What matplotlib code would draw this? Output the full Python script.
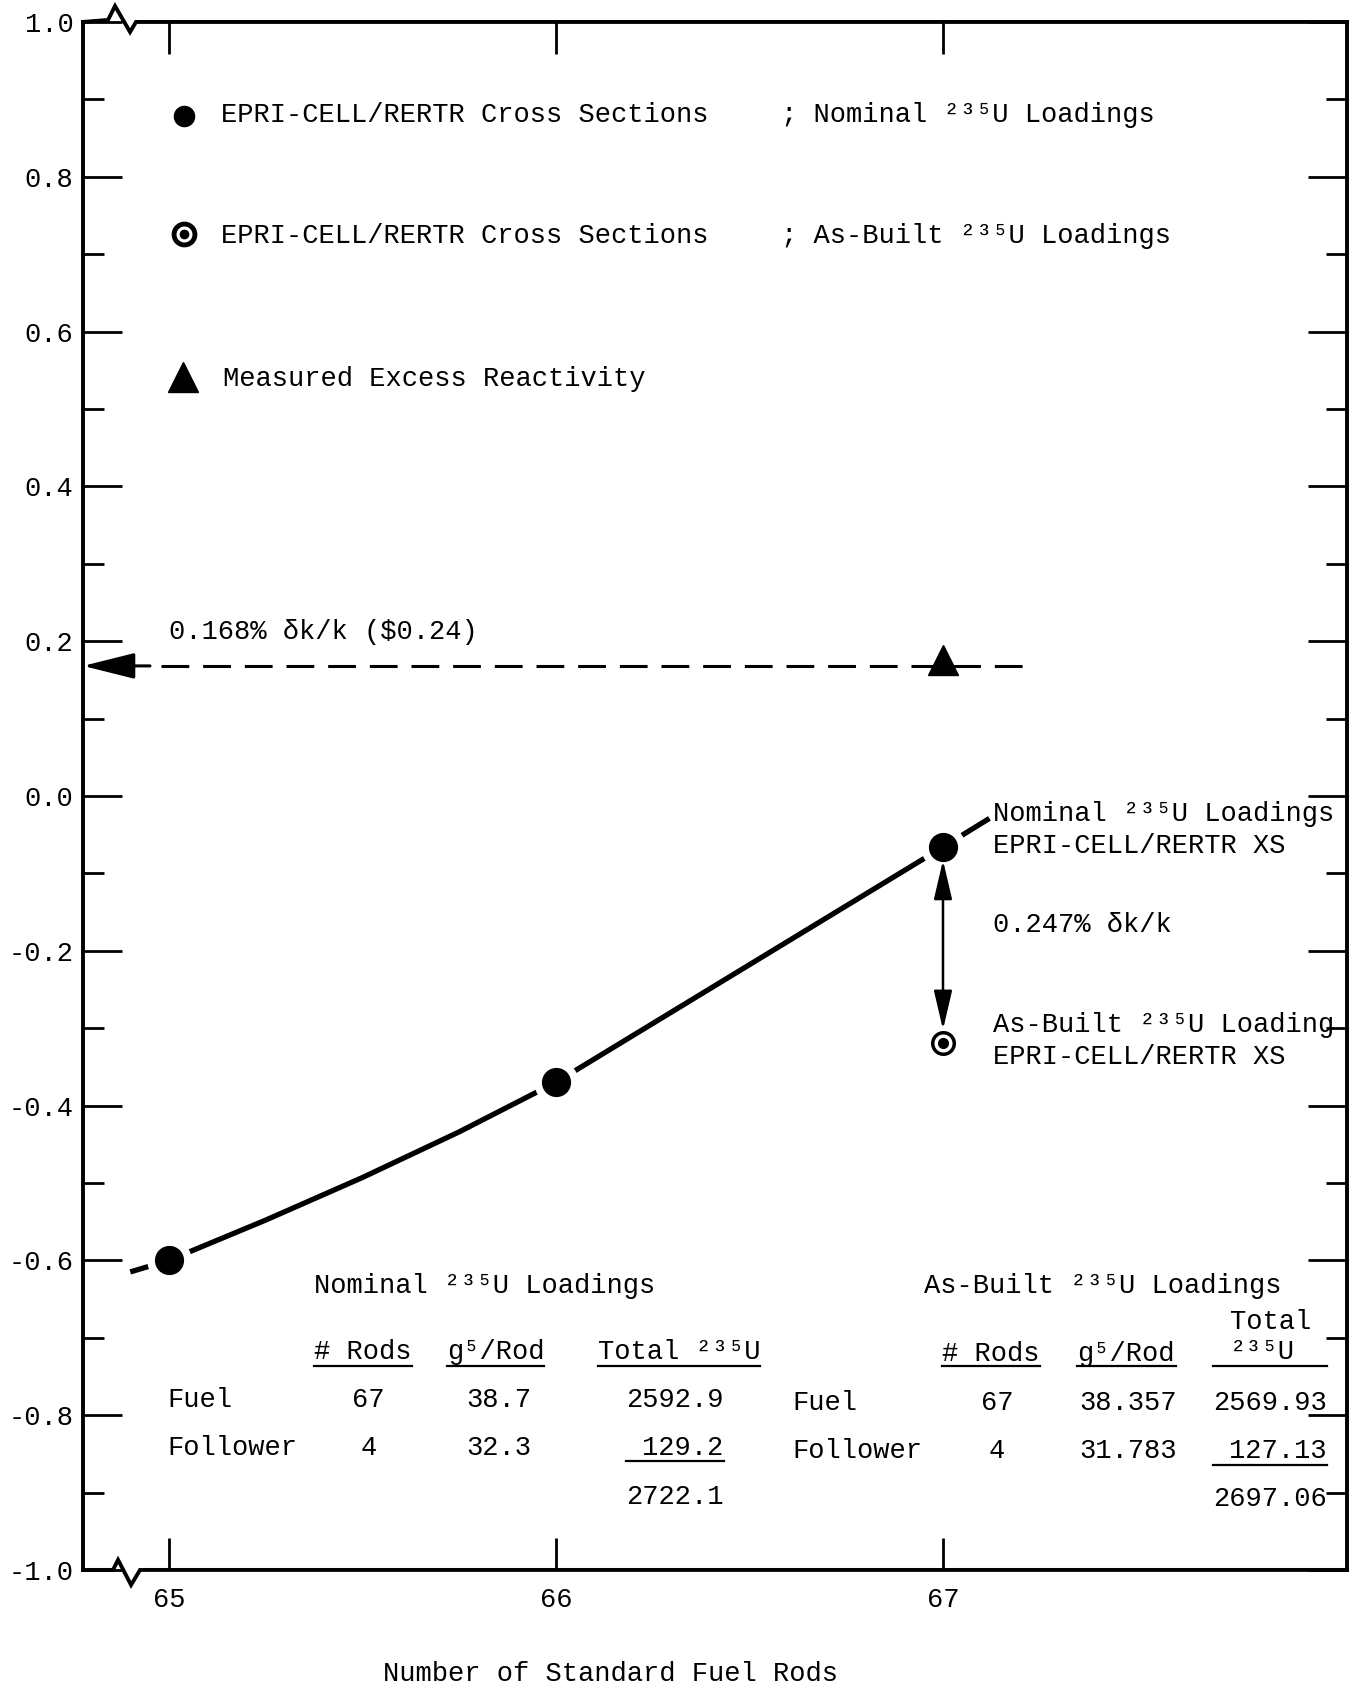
import numpy as np
import matplotlib
matplotlib.use('Agg')
import matplotlib.pyplot as plt

plt.rcParams['font.family'] = ['Liberation Mono', 'DejaVu Sans Mono']
plt.rcParams['lines.scale_dashes'] = False
FS = 19.5

# excess reactivity (% dk/k) vs number of standard fuel rods
rods = [65, 66, 67]
k_nominal = [-0.60, -0.37, -0.066]
rods_asbuilt = [67]
k_asbuilt = [-0.319]
rods_measured = [67]
k_measured = [0.175]
measured_level = 0.168

# hand drawn curve through the nominal points
curve_x = [64.90, 65.0, 65.25, 65.5, 65.75, 66.0, 67.0, 67.12]
curve_y = [-0.615, -0.60, -0.548, -0.493, -0.434, -0.37, -0.066, -0.029]

xtick_vals = [65, 66, 67]
xtick_labels = ['65', '66', '67']
ytick_vals = [-1.0, -0.8, -0.6, -0.4, -0.2, 0.0, 0.2, 0.4, 0.6, 0.8, 1.0]
ytick_labels = ['-1.0', '-0.8', '-0.6', '-0.4', '-0.2', '0.0', '0.2', '0.4', '0.6', '0.8', '1.0']
yminor_vals = [-0.9, -0.7, -0.5, -0.3, -0.1, 0.1, 0.3, 0.5, 0.7, 0.9]

# loading tables
row_names = ['Fuel', 'Follower']
nom_nrods = ['67', '4']
nom_g5 = ['38.7', '32.3']
nom_total = ['2592.9', '129.2']
nom_sum = '2722.1'
ab_nrods = ['67', '4']
ab_g5 = ['38.357', '31.783']
ab_total = ['2569.93', '127.13']
ab_sum = '2697.06'

fig = plt.figure(figsize=(13.59, 16.89), dpi=100)
ax = fig.add_axes([0.0611, 0.0705, 0.9301, 0.9165])
ax.set_xlim(64.778, 68.044)
ax.set_ylim(-1.0, 1.0)

# axes frame with break marks on top and bottom
for s in ['top', 'bottom']:
    ax.spines[s].set_visible(False)
for s in ['left', 'right']:
    ax.spines[s].set_linewidth(2.8)
ax.plot([0, 0.0198, 0.0253, 0.0372, 0.0419, 1], [1, 1.0013, 1.0103, 0.9935, 1.0, 1],
        color='k', lw=2.8, transform=ax.transAxes, clip_on=False, solid_joinstyle='miter')
ax.plot([0, 0.0237, 0.0277, 0.038, 0.0451, 1], [0, 0, 0.0065, -0.0097, 0.0, 0],
        color='k', lw=2.8, transform=ax.transAxes, clip_on=False, solid_joinstyle='miter')

ax.set_xticks(xtick_vals)
ax.set_xticklabels(xtick_labels)
ax.set_yticks(ytick_vals)
ax.set_yticklabels(ytick_labels)
ax.set_yticks(yminor_vals, minor=True)
ax.tick_params(axis='x', which='major', direction='in', length=23, width=2,
               top=True, bottom=True, pad=12, labelsize=FS)
ax.tick_params(axis='y', which='major', direction='in', length=28, width=2,
               left=True, right=True, pad=7, labelsize=FS)
ax.tick_params(axis='y', which='minor', direction='in', length=15, width=2,
               left=True, right=True)

# curve and points (white halo leaves the gap around each dot)
ax.plot(curve_x, curve_y, color='k', lw=3.8, solid_capstyle='butt',
        solid_joinstyle='round', zorder=2)
ax.plot(rods, k_nominal, 'o', color='white', ms=31, zorder=3)
ax.plot(rods, k_nominal, 'o', color='k', ms=20, zorder=4)

ax.annotate('', xy=(rods_asbuilt[0], k_asbuilt[0]), xytext=(rods[2], k_nominal[2]),
            arrowprops=dict(arrowstyle='<|-|>,head_length=1.2,head_width=0.28',
                            mutation_scale=20, lw=1.8, color='k',
                            shrinkA=9.5, shrinkB=9.5), zorder=3)
ax.plot(rods_asbuilt, k_asbuilt, 'o', mfc='white', mec='k', ms=15.5, mew=2.5, zorder=4)
ax.plot(rods_asbuilt, k_asbuilt, 'o', color='k', ms=7, zorder=5)

# measured excess reactivity
ax.plot([64.98, 67.21], [measured_level, measured_level], color='k', lw=2.2,
        ls=(0, (20, 10)), zorder=2)
ax.annotate('', xy=(ax.get_xlim()[0], measured_level), xytext=(64.951, measured_level),
            arrowprops=dict(arrowstyle='-|>,head_length=0.8,head_width=0.2',
                            mutation_scale=40, lw=2.2, color='k', shrinkA=0, shrinkB=0))
ax.plot(rods_measured, k_measured, '^', color='k', ms=21, zorder=4)

# key
ax.plot([65.04], [0.879], 'o', color='k', ms=14.5)
ax.plot([65.04], [0.7265], 'o', mfc='white', mec='k', ms=15, mew=3.5)
ax.plot([65.04], [0.7265], 'o', color='k', ms=6)
ax.plot([65.036], [0.541], '^', color='k', ms=22)
ax.text(65.134, 0.871, 'EPRI-CELL/RERTR Cross Sections', fontsize=FS)
ax.text(66.581, 0.871, '; Nominal ²³⁵U Loadings', fontsize=FS)
ax.text(65.134, 0.714, 'EPRI-CELL/RERTR Cross Sections', fontsize=FS)
ax.text(66.581, 0.714, '; As-Built ²³⁵U Loadings', fontsize=FS)
ax.text(65.14, 0.530, 'Measured Excess Reactivity', fontsize=FS)

# annotations
ax.text(65.0, 0.2034, '0.168% δk/k ($0.24)', fontsize=FS)
ax.text(67.129, -0.0318, 'Nominal ²³⁵U Loadings', fontsize=FS)
ax.text(67.129, -0.0734, 'EPRI-CELL/RERTR XS', fontsize=FS)
ax.text(67.129, -0.176, '0.247% δk/k', fontsize=FS)
ax.text(67.129, -0.3046, 'As-Built ²³⁵U Loading', fontsize=FS)
ax.text(67.129, -0.346, 'EPRI-CELL/RERTR XS', fontsize=FS)

# tables
ax.text(65.375, -0.642, 'Nominal ²³⁵U Loadings', fontsize=FS)
nh = [ax.text(65.375, -0.727, '# Rods', fontsize=FS),
      ax.text(65.718, -0.727, 'g⁵/Rod', fontsize=FS),
      ax.text(66.108, -0.727, 'Total ²³⁵U', fontsize=FS)]
nom_rows_y = [-0.789, -0.851]
nfirst = []
for i, y in enumerate(nom_rows_y):
    ax.text(64.995, y, row_names[i], fontsize=FS)
    a = ax.text(65.515, y, nom_nrods[i], fontsize=FS, ha='center')
    b = ax.text(65.852, y, nom_g5[i], fontsize=FS, ha='center')
    c = ax.text(66.433, y, nom_total[i], fontsize=FS, ha='right')
    if i == 0:
        nfirst = [a, b, c]
ax.text(66.433, -0.915, nom_sum, fontsize=FS, ha='right')

ax.text(66.951, -0.642, 'As-Built ²³⁵U Loadings', fontsize=FS)
ax.text(67.741, -0.689, 'Total', fontsize=FS)
ah = [ax.text(66.998, -0.730, '# Rods', fontsize=FS),
      ax.text(67.346, -0.730, 'g⁵/Rod', fontsize=FS),
      ax.text(67.741, -0.727, '²³⁵U', fontsize=FS)]
ab_rows_y = [-0.793, -0.855]
afirst = []
for i, y in enumerate(ab_rows_y):
    ax.text(66.611, y, row_names[i], fontsize=FS)
    a = ax.text(67.14, y, ab_nrods[i], fontsize=FS, ha='center')
    b = ax.text(67.477, y, ab_g5[i], fontsize=FS, ha='center')
    c = ax.text(67.992, y, ab_total[i], fontsize=FS, ha='right')
    if i == 0:
        afirst = [a, b, c]
ax.text(67.992, -0.918, ab_sum, fontsize=FS, ha='right')

fig.text(0.449, 0.009, 'Number of Standard Fuel Rods', fontsize=FS, ha='center', va='center')

# underlines from the text extents
fig.canvas.draw()
inv = ax.transData.inverted()


def xspan(*texts):
    x0s, x1s = [], []
    for t in texts:
        bb = t.get_window_extent()
        x0s.append(inv.transform((bb.x0, 0))[0])
        x1s.append(inv.transform((bb.x1, 0))[0])
    return min(x0s), max(x1s)


for hdr, val in zip(nh, nfirst):
    x0, x1 = xspan(hdr, val)
    ax.plot([x0, x1], [-0.736, -0.736], color='k', lw=1.6)
x0, x1 = xspan(nfirst[2])
ax.plot([x0, x1], [-0.859, -0.859], color='k', lw=1.6)
for hdr, val in zip(ah, afirst):
    x0, x1 = xspan(hdr, val)
    ax.plot([x0, x1], [-0.736, -0.736], color='k', lw=1.6)
x0, x1 = xspan(afirst[2])
ax.plot([x0, x1], [-0.864, -0.864], color='k', lw=1.6)

fig.savefig('out.png', dpi=100)
